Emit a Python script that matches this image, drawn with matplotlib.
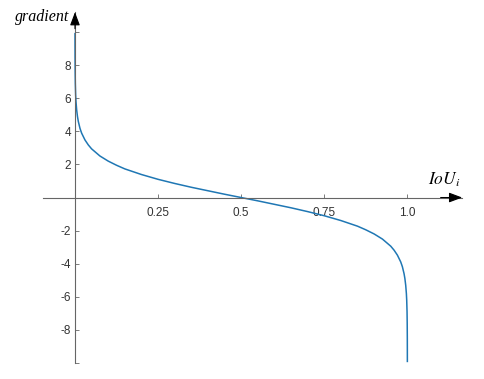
import matplotlib.pyplot as plt

# values
iou = [0.00005, 0.0001, 0.0002, 0.0005, 0.001, 0.002, 0.003, 0.005, 0.0075, 0.01, 0.015,
       0.02, 0.03, 0.04, 0.05, 0.075, 0.1, 0.125, 0.15, 0.2, 0.25, 0.3, 0.35, 0.4, 0.45,
       0.5, 0.55, 0.6, 0.65, 0.7, 0.75, 0.8, 0.85, 0.875, 0.9, 0.925, 0.95, 0.96, 0.97,
       0.98, 0.985, 0.99, 0.9925, 0.995, 0.997, 0.998, 0.999, 0.9995, 0.9998, 0.9999, 0.99995]
grad = [9.9, 9.2, 8.5, 7.6, 6.9, 6.2, 5.8, 5.3, 4.89, 4.6, 4.18,
        3.89, 3.48, 3.18, 2.94, 2.51, 2.2, 1.95, 1.73, 1.39, 1.1, 0.85, 0.62, 0.41, 0.2,
        0.0, -0.2, -0.41, -0.62, -0.85, -1.1, -1.39, -1.73, -1.95, -2.2, -2.51, -2.94, -3.18, -3.48,
        -3.89, -4.18, -4.6, -4.89, -5.3, -5.8, -6.2, -6.9, -7.6, -8.5, -9.2, -9.9]

xticks = [0.25, 0.5, 0.75, 1.0]
xticklabels = ["0.25", "0.5", "0.75", "1.0"]
yticks = [-10, -8, -6, -4, -2, 2, 4, 6, 8, 10]
yticklabels = ["", "-8", "-6", "-4", "-2", "2", "4", "6", "8", ""]

plt.rcParams["font.family"] = ["Liberation Sans", "DejaVu Sans"]
plt.rcParams["mathtext.fontset"] = "stix"

fig = plt.figure(figsize=(4.84, 3.79), dpi=100)
ax = fig.add_axes([0.089, 0.042, 0.866, 0.926])

ax.plot(iou, grad, color="#1f77b4", lw=1.1)

ax.set_xlim(-0.096, 1.165)
ax.set_ylim(-10, 11.2)

# axes through the origin
for s in ["top", "right"]:
    ax.spines[s].set_visible(False)
ax.spines["left"].set_position(("data", 0))
ax.spines["bottom"].set_position(("data", 0))
for s in ["left", "bottom"]:
    ax.spines[s].set_color("#666666")
    ax.spines[s].set_linewidth(0.8)

ax.set_xticks(xticks)
ax.set_xticklabels(xticklabels)
ax.set_yticks(yticks)
ax.set_yticklabels(yticklabels)
ax.tick_params(direction="in", length=3, width=0.6, color="#666666",
               labelsize=8.5, labelcolor="#333333")
ax.tick_params(axis="x", pad=7)
ax.tick_params(axis="y", pad=3)

# arrow heads
ax.annotate("", xy=(1.165, 0), xytext=(1.10, 0),
            arrowprops=dict(arrowstyle="-|>,head_length=0.8,head_width=0.3",
                            color="k", lw=0.8, shrinkA=0, shrinkB=0),
            annotation_clip=False)
ax.annotate("", xy=(0, 11.2), xytext=(0, 10.2),
            arrowprops=dict(arrowstyle="-|>,head_length=0.8,head_width=0.3",
                            color="k", lw=0.8, shrinkA=0, shrinkB=0),
            annotation_clip=False)

ax.text(-0.016, 10.9, "gradient", family="Liberation Serif", style="italic",
        fontsize=11.5, ha="right", va="center")
ax.text(1.11, 0.5, "$IoU_i$", fontsize=12.5, ha="center", va="bottom")

fig.savefig("out.png", dpi=100)
